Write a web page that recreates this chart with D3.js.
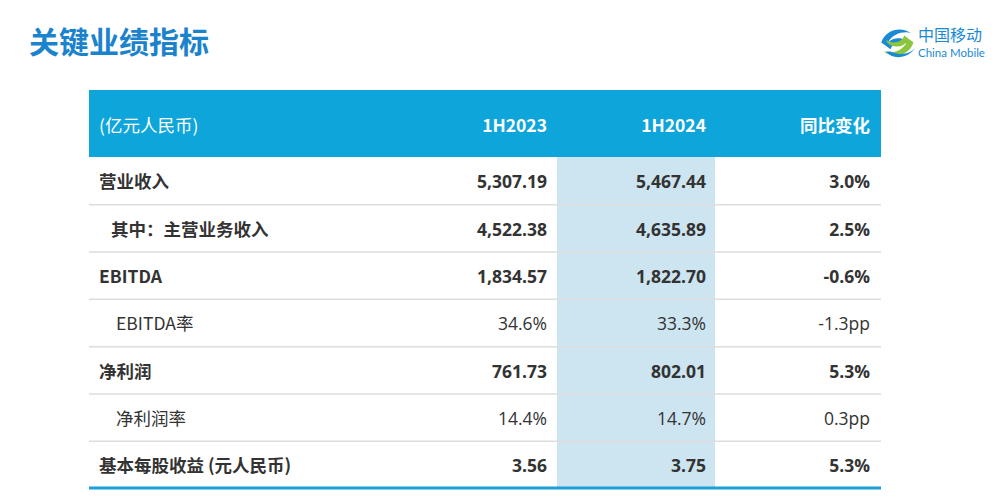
<!DOCTYPE html>
<html><head><meta charset="utf-8">
<script src="https://cdn.jsdelivr.net/npm/d3@7/dist/d3.min.js"></script>
<style>
html,body{margin:0;padding:0;background:#fff;}
svg{display:block;font-family:"Noto Sans CJK SC","Open Sans",sans-serif;}
</style></head>
<body><svg id="c" width="1005" height="500"></svg>
<script>
const title = "关键业绩指标";
const headers = ["(亿元人民币)", "1H2023", "1H2024", "同比变化"];
const rowLabels = ["营业收入", "其中：主营业务收入", "EBITDA", "EBITDA率", "净利润", "净利润率", "基本每股收益 (元人民币)"];
const values2023 = ["5,307.19", "4,522.38", "1,834.57", "34.6%", "761.73", "14.4%", "3.56"];
const values2024 = ["5,467.44", "4,635.89", "1,822.70", "33.3%", "802.01", "14.7%", "3.75"];
const changes = ["3.0%", "2.5%", "-0.6%", "-1.3pp", "5.3%", "0.3pp", "5.3%"];
const rowBold = [true, true, true, false, true, false, true];
const rowIndent = [0, 1, 0, 2, 0, 2, 0];

const svg = d3.select("#c");
const left = 89, right = 881, headTop = 90, headBottom = 157, tableBottom = 488;
const blue = "#0ea5db", textCol = "#333333";

// title
svg.append("text").attr("x", 29).attr("y", 53).attr("font-size", 30).attr("font-weight", 700)
  .attr("fill", "#1b83cc").text(title);

// logo
const logo = svg.append("g").attr("transform", "translate(879,24) scale(1.15)");
logo.append("path").attr("d", "M2,16 C6,4 20,2 28,8 C22,6 12,8 8,16 C14,10 24,12 26,18 C20,14 12,16 10,22 Z").attr("fill", "#1a8ad4");
logo.append("path").attr("d", "M30,16 C26,28 12,30 4,24 C10,26 20,24 24,16 C18,22 8,20 6,14 C12,18 20,16 22,10 Z").attr("fill", "#8cc63f");
logo.append("path").attr("d", "M6,24 C12,32 26,30 32,20 C28,26 18,28 10,24 Z").attr("fill", "#1a8ad4");
const lt = svg.append("g");
lt.append("text").attr("x", 918).attr("y", 41).attr("font-size", 16).attr("fill", "#1a8ad4").text("中国移动");
lt.append("text").attr("x", 918).attr("y", 57).attr("font-size", 11.5).attr("fill", "#1a8ad4")
  .attr("font-family", "Lato, 'Open Sans', sans-serif").text("China Mobile");

// scales
const y = d3.scaleBand().domain(d3.range(rowLabels.length)).range([headBottom, tableBottom]);
const colRight = d3.scaleOrdinal().domain([1, 2, 3]).range([547, 706, 870]);
const indentX = d3.scaleOrdinal().domain([0, 1, 2]).range([99, 111, 116]);

// highlight column
svg.append("rect").attr("x", 557).attr("y", headBottom).attr("width", 158)
  .attr("height", tableBottom - headBottom).attr("fill", "#cde5f1");

// header band
svg.append("rect").attr("x", left).attr("y", headTop).attr("width", right - left)
  .attr("height", headBottom - headTop).attr("fill", blue);
const hy = (headTop + headBottom) / 2 + 2;
svg.append("text").attr("x", 99).attr("y", hy).attr("dy", "0.36em").attr("font-size", 17.5)
  .attr("fill", "#fff").text(headers[0]);
[1, 2, 3].forEach(i => {
  svg.append("text").attr("x", colRight(i)).attr("y", hy).attr("dy", "0.36em")
    .attr("text-anchor", "end").attr("font-size", 17.5).attr("font-weight", 700)
    .attr("fill", "#fff").text(headers[i]);
});

// separators
d3.range(1, rowLabels.length).forEach(i => {
  svg.append("line").attr("x1", left).attr("x2", right).attr("y1", y(i) + 0.5).attr("y2", y(i) + 0.5)
    .attr("stroke", "#dddddd").attr("stroke-width", 1.5);
});
svg.append("line").attr("x1", left).attr("x2", right).attr("y1", tableBottom).attr("y2", tableBottom)
  .attr("stroke", "#1a9fd6").attr("stroke-width", 3);

// rows
const rows = svg.selectAll("g.row").data(rowLabels).join("g").attr("class", "row")
  .attr("transform", (d, i) => `translate(0,${y(i) + y.bandwidth() / 2 + 1.5})`);
rows.append("text").attr("x", (d, i) => indentX(rowIndent[i])).attr("dy", "0.36em")
  .attr("font-size", 17.5).attr("font-weight", (d, i) => rowBold[i] ? 700 : 400)
  .attr("fill", textCol).text(d => d);
const cols = [values2023, values2024, changes];
cols.forEach((arr, ci) => {
  rows.append("text").attr("x", colRight(ci + 1)).attr("dy", "0.36em").attr("text-anchor", "end")
    .attr("font-size", 17.5).attr("font-family", "'Open Sans', sans-serif")
    .attr("font-weight", (d, i) => rowBold[i] ? 700 : 400)
    .attr("fill", textCol).text((d, i) => arr[i]);
});
</script></body></html>
